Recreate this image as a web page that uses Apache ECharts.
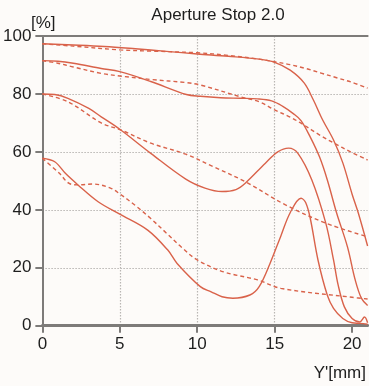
<!DOCTYPE html>
<html><head><meta charset="utf-8">
<script src="https://cdn.jsdelivr.net/npm/echarts@6/dist/echarts.min.js"></script>
<style>html,body{margin:0;padding:0;background:#fdfbf9;}#c{width:369px;height:386px;}</style>
</head><body><div id="c"></div>
<script>
const titleText = 'Aperture Stop 2.0';
const xTicks = [0, 5, 10, 15, 20];
const yTicks = [0, 20, 40, 60, 80, 100];

const s1X = [0, 2, 4, 6, 8, 10, 12, 14, 15, 16, 16.9, 17.5, 18.1, 18.8, 19.4, 20, 20.4, 21];
const s1Y = [97.3, 96.9, 96.4, 95.6, 94.7, 93.8, 93.0, 92.0, 90.9, 88.2, 83.8, 77.9, 71.0, 64.1, 56.2, 45.4, 38.9, 27.5];
const d1X = [0, 2, 5, 7, 10, 12, 14, 15, 16, 17, 18, 19, 20, 21];
const d1Y = [97.3, 96.5, 95.2, 94.8, 94.2, 93.3, 92.0, 91.1, 90.1, 88.8, 87.2, 85.6, 84.0, 82.0];

const s2X = [0, 1, 2, 3.8, 5, 7, 9.3, 10.2, 11.5, 12.8, 13.9, 14.8, 15.5, 16.2, 16.7, 17.3, 17.9, 18.4, 19, 19.7, 20.2, 20.6, 21];
const s2Y = [91.5, 91.3, 90.6, 88.8, 87.7, 84.3, 79.8, 79.2, 78.7, 78.5, 78.3, 77.6, 75.8, 73.2, 70.8, 65.1, 58.2, 50.3, 38.9, 27.2, 15.8, 9.5, 7.0];
const d2X = [0, 1, 2, 3.8, 5, 7, 9.3, 10.2, 12.8, 14, 15, 16, 16.7, 18, 18.8, 19.9, 21];
const d2Y = [91.5, 90.6, 89.3, 87.1, 86.2, 85.0, 83.9, 83.1, 79.0, 77.3, 74.5, 72.0, 69.9, 65.5, 63.1, 60.0, 57.2];

const s3X = [0, 0.8, 1.65, 3, 3.8, 5, 7, 9.26, 10.5, 11.6, 12.5, 13.1, 14.4, 15.2, 15.9, 16.5, 17.4, 18.3, 18.8, 19.1, 19.5, 20, 20.5, 20.8, 21];
const s3Y = [80, 79.8, 78.5, 75.0, 72.1, 67.8, 59.5, 50.6, 47.5, 46.3, 47.0, 49.2, 56.1, 60.0, 61.3, 59.5, 50.3, 35.4, 22.7, 14.0, 6.5, 2.5, 1.3, 3.0, 1.0];
const d3X = [0, 1.65, 3.8, 5.1, 7, 9.26, 11, 13.1, 15.7, 18.3, 21];
const d3Y = [80, 77.3, 70.0, 67.5, 63.0, 59.2, 55.0, 49.7, 41.7, 35.4, 30.7];

const s4X = [0, 0.8, 1.5, 2.3, 3.6, 5, 6.8, 8.1, 8.7, 10.2, 10.9, 11.6, 12.3, 13.4, 14.0, 14.7, 15.4, 16, 16.7, 17.0, 17.3, 17.8, 18.4, 18.8, 19.4, 20, 20.5, 21];
const s4Y = [57.8, 56.6, 52.5, 48.6, 42.8, 38.5, 33.0, 26.1, 21.5, 13.5, 11.7, 10.0, 9.5, 10.6, 13.5, 21.5, 31.0, 39.0, 44.0, 42.5, 37.0, 22.6, 10.5, 6.0, 2.5, 1.0, 0.8, 0.5];
const d4X = [0, 1.1, 1.7, 2.3, 3.3, 4.4, 5, 6, 7, 8, 9, 10, 11.7, 13.9, 15.4, 20, 21];
const d4Y = [57.8, 52.6, 49.2, 48.6, 48.9, 47.5, 45.5, 41.5, 37.0, 32.0, 27.0, 22.7, 18.6, 15.8, 12.9, 9.8, 9.2];

const lineColor = '#d9624a';
const axisGrey = '#7d7b79';
const gridGrey = '#b9b6b3';
const font = 'Liberation Sans, Arial, sans-serif';

function pairs(xs, ys) { return xs.map((x, i) => [x, ys[i]]); }
function mk(name, xs, ys, dashed) {
  return {
    name: name, type: 'line', smooth: 0.35, symbol: 'none', xAxisIndex: 0,
    data: pairs(xs, ys),
    lineStyle: { color: lineColor, width: 1.4, type: dashed ? [4, 3] : 'solid' },
    z: 5
  };
}

const chart = echarts.init(document.getElementById('c'), null, { renderer: 'canvas' });
chart.setOption({
  backgroundColor: '#fdfbf9',
  animation: false,
  title: {
    text: titleText, left: 213, top: 2, textAlign: 'center',
    textStyle: { fontFamily: font, fontSize: 17, fontWeight: 'normal', color: '#1e1e1e' }
  },
  grid: { left: 41, top: 36, width: 326.6, height: 289.7, containLabel: false },
  xAxis: [{
    type: 'value', min: 0, max: 21, interval: 5,
    axisLine: { show: true, lineStyle: { color: axisGrey, width: 3 } },
    axisTick: { show: true, length: 7, lineStyle: { color: axisGrey, width: 2 },
      customValues: xTicks },
    axisLabel: { margin: 10, fontFamily: font, fontSize: 17, color: '#1e1e1e',
      customValues: xTicks, formatter: v => String(v) },
    splitLine: { show: true, showMinLine: false, showMaxLine: false,
      lineStyle: { color: gridGrey, type: [1.5, 1.5], width: 1.2 } }
  }, {
    type: 'value', min: 0, max: 21, position: 'top',
    axisLine: { show: true, onZero: false, lineStyle: { color: axisGrey, width: 2 } },
    axisTick: { show: false }, axisLabel: { show: false }, splitLine: { show: false }
  }],
  yAxis: {
    type: 'value', min: 0, max: 100, interval: 20,
    axisLine: { show: true, lineStyle: { color: axisGrey, width: 2 } },
    axisTick: { show: true, length: 7, lineStyle: { color: axisGrey, width: 2 },
      customValues: yTicks },
    axisLabel: { margin: 11, fontFamily: font, fontSize: 17, color: '#1e1e1e',
      customValues: yTicks, formatter: v => String(v) },
    splitLine: { show: true, showMinLine: false, showMaxLine: false,
      lineStyle: { color: gridGrey, type: [1.5, 1.5], width: 1.2 } }
  },
  graphic: [
    { type: 'text', left: 31, top: 15, style: { text: '[%]', font: '17px ' + font, fill: '#1e1e1e' } },
    { type: 'text', right: 3, top: 365, style: { text: "Y'[mm]", font: '17px ' + font, fill: '#1e1e1e' } }
  ],
  series: [
    mk('S1', s1X, s1Y, false), mk('D1', d1X, d1Y, true),
    mk('S2', s2X, s2Y, false), mk('D2', d2X, d2Y, true),
    mk('S3', s3X, s3Y, false), mk('D3', d3X, d3Y, true),
    mk('S4', s4X, s4Y, false), mk('D4', d4X, d4Y, true)
  ]
});
</script></body></html>
